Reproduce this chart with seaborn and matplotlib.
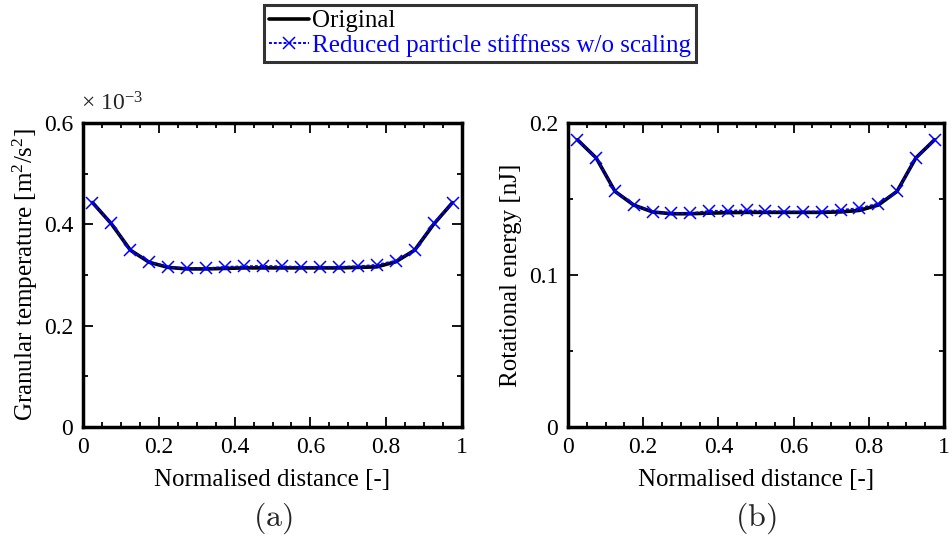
import numpy as np
import pandas as pd
import matplotlib
matplotlib.use("Agg")
import matplotlib.pyplot as plt
import seaborn as sns
from matplotlib.ticker import MultipleLocator

sns.set_theme(style="white")
plt.rcParams['font.family'] = ['Liberation Serif', 'DejaVu Serif']
plt.rcParams['mathtext.fontset'] = 'custom'
plt.rcParams['mathtext.rm'] = 'Liberation Serif'
plt.rcParams['mathtext.it'] = 'Liberation Serif:italic'

# ---- data ----
distance = [0.025, 0.075, 0.125, 0.175, 0.225, 0.275, 0.325, 0.375, 0.425, 0.475,
            0.525, 0.575, 0.625, 0.675, 0.725, 0.775, 0.825, 0.875, 0.925, 0.975]
gt_original = [0.443, 0.401, 0.349, 0.325, 0.315, 0.312, 0.312, 0.313, 0.314, 0.314,
               0.314, 0.314, 0.314, 0.314, 0.315, 0.316, 0.326, 0.349, 0.400, 0.443]
gt_reduced = [0.443, 0.402, 0.349, 0.326, 0.316, 0.313, 0.313, 0.316, 0.317, 0.318,
              0.317, 0.316, 0.316, 0.316, 0.317, 0.320, 0.328, 0.349, 0.402, 0.443]
re_original = [0.189, 0.177, 0.155, 0.146, 0.1415, 0.1403, 0.1403, 0.1407, 0.1410, 0.1412,
               0.1412, 0.1412, 0.1412, 0.1412, 0.1415, 0.1425, 0.1460, 0.155, 0.177, 0.189]
re_reduced = [0.189, 0.177, 0.155, 0.146, 0.1417, 0.1406, 0.1406, 0.1421, 0.1423, 0.1425,
              0.1421, 0.1417, 0.1417, 0.1417, 0.1428, 0.1439, 0.1470, 0.155, 0.177, 0.189]
labels = ["Original", "Reduced particle stiffness w/o scaling"]
xticks = [0, 0.2, 0.4, 0.6, 0.8, 1]
xticklabels = ["0", "0.2", "0.4", "0.6", "0.8", "1"]

W, H = 952, 537
fig = plt.figure(figsize=(W / 100, H / 100), dpi=100)
axL = fig.add_axes([83 / W, 1 - 427 / H, 379 / W, 304 / H])
axR = fig.add_axes([568 / W, 1 - 427 / H, 376 / W, 304 / H])

blue = (0, 0, 1)

def draw(ax, yo, yr):
    df = pd.DataFrame({"x": distance, "orig": yo, "red": yr})
    sns.lineplot(data=df, x="x", y="orig", ax=ax, color="black", lw=2.6, label=labels[0], legend=False)
    sns.lineplot(data=df, x="x", y="red", ax=ax, color=blue, lw=1.4, ls=(0, (1.5, 1)),
                 marker="x", markersize=9, markeredgewidth=1.1, markeredgecolor=blue,
                 label=labels[1], legend=False)
    ax.set_xlim(0, 1)
    ax.set_xticks(xticks)
    ax.set_xticklabels(xticklabels)
    ax.xaxis.set_minor_locator(MultipleLocator(0.05))
    for s in ax.spines.values():
        s.set_linewidth(2.5)
        s.set_color("black")
    ax.tick_params(which="both", direction="in", top=True, right=True, bottom=True, left=True,
                   colors="black", labelsize=17, width=1.3)
    ax.tick_params(which="major", length=7, pad=7)
    ax.tick_params(which="minor", length=3.5)
    ax.set_xlabel("Normalised distance [-]", fontsize=18, color="black", labelpad=8)

draw(axL, gt_original, gt_reduced)
axL.set_ylim(0, 0.6)
axL.set_yticks([0, 0.2, 0.4, 0.6])
axL.set_yticklabels(["0", "0.2", "0.4", "0.6"])
axL.yaxis.set_minor_locator(MultipleLocator(0.1))
axL.set_ylabel("Granular temperature [m$^2$/s$^2$]", fontsize=18, color="black", labelpad=3)
axL.text(-0.005, 1.025, "× 10$^{-3}$", transform=axL.transAxes, fontsize=17, ha="left", va="bottom")

draw(axR, re_original, re_reduced)
axR.set_ylim(0, 0.2)
axR.set_yticks([0, 0.1, 0.2])
axR.set_yticklabels(["0", "0.1", "0.2"])
axR.yaxis.set_minor_locator(MultipleLocator(0.05))
axR.set_ylabel("Rotational energy [nJ]", fontsize=18, color="black", labelpad=5)

fig.text((83 + 462) / 2 / W, 1 - 518 / H, r"$\mathrm{(a)}$", fontsize=23, ha="center", va="center", math_fontfamily="cm")
fig.text((568 + 944) / 2 / W, 1 - 518 / H, r"$\mathrm{(b)}$", fontsize=23, ha="center", va="center", math_fontfamily="cm")

handles, lbls = axL.get_legend_handles_labels()
leg = fig.legend(handles, lbls, loc="upper center", bbox_to_anchor=(480 / W, 1 - 5 / H),
                 frameon=True, fancybox=False, fontsize=18, handlelength=1.6, handletextpad=0.12,
                 borderpad=0.2, labelspacing=0.05, borderaxespad=0)
leg.get_frame().set_edgecolor("black")
leg.get_frame().set_linewidth(2.2)
for t, c in zip(leg.get_texts(), ["black", blue]):
    t.set_color(c)

fig.savefig("out.png", dpi=100)
